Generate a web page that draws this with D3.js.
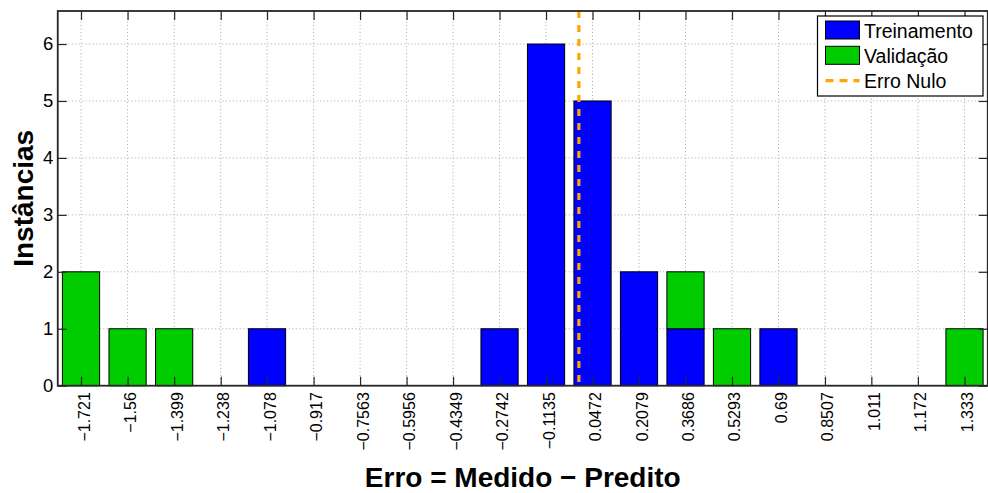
<!DOCTYPE html>
<html>
<head>
<meta charset="utf-8">
<script src="https://cdn.jsdelivr.net/npm/d3@7"></script>
<style>
	html, body { margin: 0; padding: 0; background: #fff; overflow: hidden; }
	svg { display: block; }
	text { font-family: "Liberation Sans", Arial, Helvetica, sans-serif; }
</style>
</head>
<body>
<svg id="histograma"></svg>
<script>
// Graph dimensions
const width = 988;
const height = 493;

const margin = {
	top: 11,
	right: 0.25,
	bottom: 107.3,
	left: 57.75,
};

const innerWidth = width - margin.left - margin.right;
const innerHeight = height - margin.top - margin.bottom;

// Data
const binCenters = [-1.721, -1.56, -1.399, -1.238, -1.078, -0.917, -0.7563, -0.5956, -0.4349, -0.2742,
	-0.1135, 0.0472, 0.2079, 0.3686, 0.5293, 0.69, 0.8507, 1.011, 1.172, 1.333];
const binLabels = ["−1.721", "−1.56", "−1.399", "−1.238", "−1.078", "−0.917", "−0.7563", "−0.5956", "−0.4349", "−0.2742",
	"−0.1135", "0.0472", "0.2079", "0.3686", "0.5293", "0.69", "0.8507", "1.011", "1.172", "1.333"];
const treinamento = [0, 0, 0, 0, 1, 0, 0, 0, 0, 1, 6, 5, 2, 1, 0, 1, 0, 0, 0, 0];
const validacao = [2, 1, 1, 0, 0, 0, 0, 0, 0, 0, 0, 0, 0, 1, 1, 0, 0, 0, 0, 1];
const yTicks = [0, 1, 2, 3, 4, 5, 6];
const yMax = 6.58;
const erroNulo = 0;

const seriesNames = ["Treinamento", "Validação"];
const seriesColors = ["#0000ff", "#00cc00"];
const nuloColor = "#ffa500";
const axisColor = "#262626";

const svg = d3.select("#histograma")
	.attr("width", width)
	.attr("height", height);

const g = svg.append("g")
	.attr("transform", `translate(${margin.left}, ${margin.top})`);

// scales
const binW = (binCenters[binCenters.length - 1] - binCenters[0]) / (binCenters.length - 1);

const xScale = d3.scaleLinear()
	.domain([binCenters[0] - binW / 2, binCenters[binCenters.length - 1] + binW / 2])
	.range([0, innerWidth]);

const yScale = d3.scaleLinear()
	.domain([0, yMax])
	.range([innerHeight, 0]);

// grid (dotted)
g.append("g")
	.selectAll("line")
	.data(binCenters)
	.join("line")
	.attr("x1", (d) => xScale(d))
	.attr("x2", (d) => xScale(d))
	.attr("y1", 0)
	.attr("y2", innerHeight)
	.attr("stroke", "#a8a8a8")
	.attr("stroke-width", 1)
	.attr("stroke-dasharray", "1,2.5");

g.append("g")
	.selectAll("line")
	.data(yTicks.filter((d) => d > 0))
	.join("line")
	.attr("x1", 0)
	.attr("x2", innerWidth)
	.attr("y1", (d) => yScale(d))
	.attr("y2", (d) => yScale(d))
	.attr("stroke", "#a8a8a8")
	.attr("stroke-width", 1)
	.attr("stroke-dasharray", "1,2.5");

// stacked bars
const table = binCenters.map((c, i) => ({
	center: c,
	Treinamento: treinamento[i],
	"Validação": validacao[i],
}));

const stacked = d3.stack().keys(seriesNames)(table);
const barW = xScale(binCenters[0] + binW * 0.8) - xScale(binCenters[0]);

g.append("g")
	.selectAll("g")
	.data(stacked)
	.join("g")
	.attr("fill", (d, i) => seriesColors[i])
	.selectAll("rect")
	.data((d) => d.filter((s) => s[1] > s[0]))
	.join("rect")
	.attr("x", (d) => xScale(d.data.center) - barW / 2)
	.attr("width", barW)
	.attr("y", (d) => yScale(d[1]))
	.attr("height", (d) => yScale(d[0]) - yScale(d[1]))
	.attr("stroke", "#000")
	.attr("stroke-width", 1);

// Erro nulo line
g.append("line")
	.attr("x1", xScale(erroNulo))
	.attr("x2", xScale(erroNulo))
	.attr("y1", 0)
	.attr("y2", innerHeight)
	.attr("stroke", nuloColor)
	.attr("stroke-width", 3.2)
	.attr("stroke-dasharray", "7,7");

// axes (ticks inward on all four sides)
const xAxis = g.append("g")
	.attr("transform", `translate(0, ${innerHeight})`)
	.call(d3.axisBottom(xScale)
		.tickValues(binCenters)
		.tickSize(-9)
		.tickSizeOuter(0)
		.tickFormat((d, i) => binLabels[i]));

xAxis.selectAll("text")
	.attr("transform", "rotate(-90)")
	.attr("x", -6.5)
	.attr("y", 0)
	.attr("dy", "0.5em")
	.attr("text-anchor", "end")
	.attr("font-size", 16)
	.attr("fill", "#000");

g.append("g")
	.call(d3.axisTop(xScale)
		.tickValues(binCenters)
		.tickSize(-9)
		.tickSizeOuter(0)
		.tickFormat(""));

const yAxis = g.append("g")
	.call(d3.axisLeft(yScale)
		.tickValues(yTicks)
		.tickSize(-9)
		.tickSizeOuter(0)
		.tickPadding(4.5)
		.tickFormat(d3.format("d")));

yAxis.selectAll("text")
	.attr("font-size", 18.5)
	.attr("fill", "#000");

g.append("g")
	.attr("transform", `translate(${innerWidth}, 0)`)
	.call(d3.axisRight(yScale)
		.tickValues(yTicks)
		.tickSize(-9)
		.tickSizeOuter(0)
		.tickFormat(""));

g.selectAll(".domain").remove();
g.selectAll(".tick line")
	.attr("stroke", axisColor)
	.attr("stroke-width", 1.2);

// box
g.append("rect")
	.attr("x", 0)
	.attr("y", 0)
	.attr("width", innerWidth)
	.attr("height", innerHeight)
	.attr("fill", "none")
	.attr("stroke", axisColor)
	.attr("stroke-width", 1.8);

// axis labels
svg.append("text")
	.attr("x", margin.left + innerWidth / 2)
	.attr("y", 487)
	.attr("text-anchor", "middle")
	.attr("font-size", 28)
	.attr("font-weight", "bold")
	.text("Erro = Medido − Predito");

svg.append("text")
	.attr("transform", `translate(33, ${margin.top + innerHeight / 2}) rotate(-90)`)
	.attr("text-anchor", "middle")
	.attr("font-size", 28)
	.attr("font-weight", "bold")
	.text("Instâncias");

// legend
const legend = svg.append("g").attr("transform", "translate(817.5, 16)");

legend.append("rect")
	.attr("width", 165.5)
	.attr("height", 80)
	.attr("fill", "#fff")
	.attr("stroke", "#000")
	.attr("stroke-width", 1.2);

const legendItems = [
	{ name: seriesNames[0], color: seriesColors[0], type: "box" },
	{ name: seriesNames[1], color: seriesColors[1], type: "box" },
	{ name: "Erro Nulo", color: nuloColor, type: "line" },
];

const item = legend.selectAll(".item")
	.data(legendItems)
	.join("g")
	.attr("class", "item")
	.attr("transform", (d, i) => `translate(0, ${14 + i * 25.3})`);

item.filter((d) => d.type === "box")
	.append("rect")
	.attr("x", 8)
	.attr("y", -9)
	.attr("width", 34)
	.attr("height", 18)
	.attr("fill", (d) => d.color)
	.attr("stroke", "#000")
	.attr("stroke-width", 1);

item.filter((d) => d.type === "line")
	.append("line")
	.attr("x1", 8)
	.attr("x2", 42)
	.attr("y1", 0)
	.attr("y2", 0)
	.attr("stroke", (d) => d.color)
	.attr("stroke-width", 3.2)
	.attr("stroke-dasharray", "8,6");

item.append("text")
	.attr("x", 46.5)
	.attr("y", 7.5)
	.attr("font-size", 19.5)
	.text((d) => d.name);
</script>
</body>
</html>
